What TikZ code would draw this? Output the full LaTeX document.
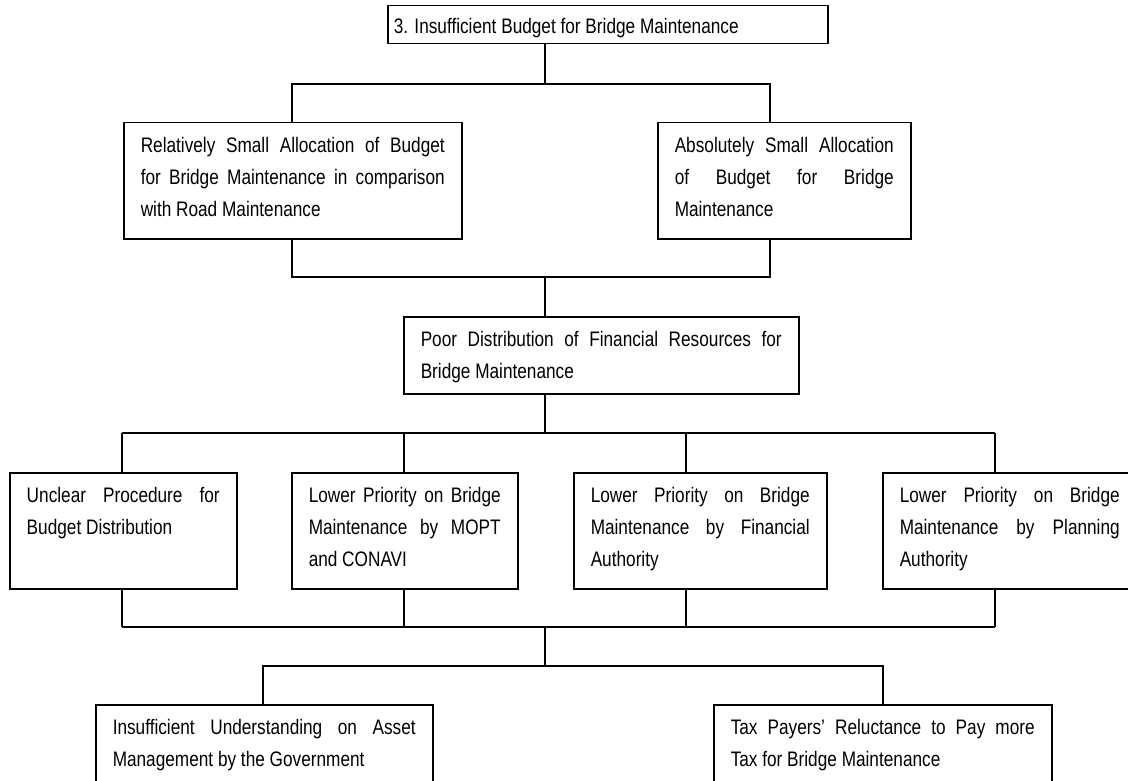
\documentclass[tikz,border=0pt]{standalone}
\usepackage{fontspec}
\setmainfont{Liberation Sans}[FakeStretch=0.82]
\usepackage{tikz}
\tikzstyle{cause} = [draw, line width=1.5pt, anchor=north west, inner xsep=17pt, inner ysep=0pt]
\tikzstyle{link} = [line width=1.5pt]
\newcommand{\cbox}[4][30pt]{\parbox[t][#3][t]{#2}{\rule{0pt}{#1}#4}}
\tolerance=10000
\hbadness=10000
\hyphenpenalty=10000

\begin{document}
\begin{tikzpicture}[x=1pt,y=-1pt,every node/.style={font=\fontsize{21}{32}\selectfont}]
    \useasboundingbox (0,0) rectangle (1128,781);
    \node[cause, inner xsep=6pt] (top) at (387,5)
        {\cbox[28pt]{428pt}{38pt}{3. Insufficient Budget for Bridge Maintenance}};
    \node[cause] (relSmall) at (123,122) {\cbox{304pt}{116pt}{Relatively Small Allocation of Budget\linebreak
        for Bridge Maintenance in comparison\linebreak with Road Maintenance}};
    \node[cause] (absSmall) at (657,122) {\cbox{219pt}{116pt}{Absolutely Small Allocation\linebreak
        of Budget for Bridge\linebreak Maintenance}};
    \node[cause] (poorDist) at (403,316) {\cbox{361pt}{77pt}{Poor Distribution of Financial Resources for\linebreak
        Bridge Maintenance}};
    \node[cause] (unclear) at (9,472) {\cbox{193pt}{116pt}{Unclear Procedure for\linebreak Budget Distribution}};
    \node[cause] (prioMopt) at (291,472) {\cbox{192pt}{116pt}{Lower Priority on Bridge\linebreak
        Maintenance by MOPT\linebreak and CONAVI}};
    \node[cause] (prioFin) at (573,472) {\cbox{219pt}{116pt}{Lower Priority on Bridge\linebreak
        Maintenance by Financial\linebreak Authority}};
    \node[cause] (prioPlan) at (882,472) {\cbox{220pt}{116pt}{Lower Priority on Bridge\linebreak
        Maintenance by Planning\linebreak Authority}};
    \node[cause] (understand) at (95,704) {\cbox{303pt}{116pt}{Insufficient Understanding on Asset\linebreak
        Management by the Government}};
    \node[cause] (taxPayers) at (713,704) {\cbox{304pt}{116pt}{Tax Payers’ Reluctance to Pay more\linebreak
        Tax for Bridge Maintenance}};

    \coordinate (b1a) at (292,84);
    \coordinate (b1m) at (545,84);
    \coordinate (b1b) at (770,84);
    \draw[link] (top.south -| b1m) -- (b1m);
    \draw[link] (relSmall.north -| b1a) -- (b1a) -- (b1b) -- (absSmall.north -| b1b);

    \coordinate (b2a) at (292,277);
    \coordinate (b2m) at (545,277);
    \coordinate (b2b) at (770,277);
    \draw[link] (relSmall.south -| b2a) -- (b2a) -- (b2b) -- (absSmall.south -| b2b);
    \draw[link] (b2m) -- (poorDist.north -| b2m);

    \coordinate (b3m) at (545,433);
    \coordinate (b3a) at (122,433);
    \coordinate (b3b) at (404,433);
    \coordinate (b3c) at (686,433);
    \coordinate (b3d) at (995,433);
    \draw[link] (poorDist.south -| b3m) -- (b3m);
    \draw[link] (b3a) -- (b3d);
    \foreach \n/\c in {unclear/b3a,prioMopt/b3b,prioFin/b3c,prioPlan/b3d}{
        \draw[link] (\c) -- (\n.north -| \c);
    }

    \coordinate (b4m) at (545,627);
    \coordinate (b4a) at (122,627);
    \coordinate (b4b) at (404,627);
    \coordinate (b4c) at (686,627);
    \coordinate (b4d) at (995,627);
    \draw[link] (b4a) -- (b4d);
    \foreach \n/\c in {unclear/b4a,prioMopt/b4b,prioFin/b4c,prioPlan/b4d}{
        \draw[link] (\n.south -| \c) -- (\c);
    }

    \coordinate (b5a) at (263,666);
    \coordinate (b5m) at (545,666);
    \coordinate (b5b) at (883,666);
    \draw[link] (b4m) -- (b5m);
    \draw[link] (understand.north -| b5a) -- (b5a) -- (b5b) -- (taxPayers.north -| b5b);
\end{tikzpicture}
\end{document}
